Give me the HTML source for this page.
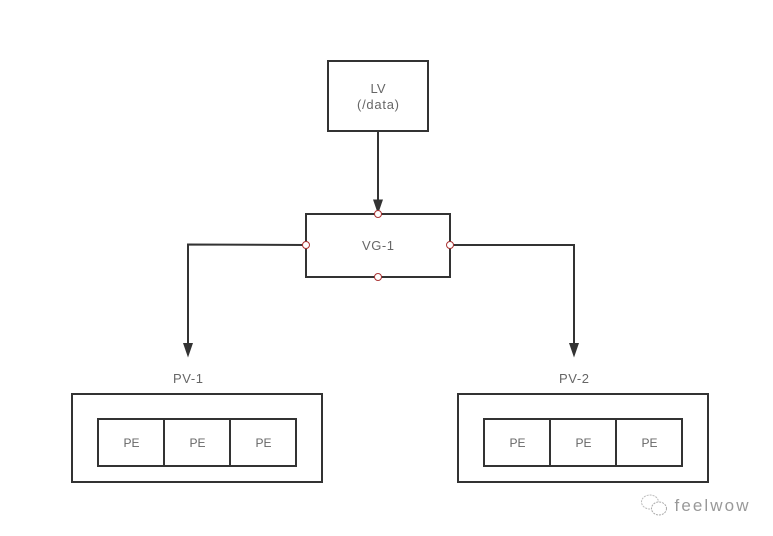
<!DOCTYPE html>
<html>
<head>
<meta charset="utf-8">
<style>
html,body{margin:0;padding:0;background:#fff;width:773px;height:536px;overflow:hidden}
svg{display:block}
text{font-family:"Liberation Sans",sans-serif;font-size:13px;fill:#666;text-anchor:middle}
text.p{font-size:12px}
.b{fill:#fff;stroke:#333;stroke-width:2}
.l{fill:none;stroke:#333;stroke-width:2}
.a{fill:#333;stroke:none}
.c{fill:#fff;stroke:#a33;stroke-width:1}
</style>
</head>
<body>
<svg width="773" height="536" viewBox="0 0 773 536" xmlns="http://www.w3.org/2000/svg">
<rect class="b" x="328" y="61" width="100" height="70"/>
<text x="378" y="93" textLength="15" lengthAdjust="spacing">LV</text>
<text x="378" y="109" textLength="42" lengthAdjust="spacing">(/data)</text>
<rect class="b" x="306" y="214" width="144" height="63"/>
<text x="378" y="250" textLength="32" lengthAdjust="spacing">VG-1</text>
<path class="l" d="M378 131V202"/>
<path class="a" d="M373 199.500H383L378 214Z"/>
<path class="l" d="M306 245L188 244.500V346"/>
<path class="a" d="M183 343H193L188 357.500Z"/>
<path class="l" d="M450 245H574V346"/>
<path class="a" d="M569 343H579L574 357.500Z"/>
<circle class="c" cx="378" cy="214" r="3.500"/>
<circle class="c" cx="378" cy="277" r="3.500"/>
<circle class="c" cx="306" cy="245" r="3.500"/>
<circle class="c" cx="450" cy="245" r="3.500"/>
<text x="188" y="383" textLength="30" lengthAdjust="spacing">PV-1</text>
<rect class="b" x="72" y="394" width="250" height="88"/>
<rect class="b" x="98" y="419" width="66" height="47"/>
<rect class="b" x="164" y="419" width="66" height="47"/>
<rect class="b" x="230" y="419" width="66" height="47"/>
<text class="p" x="131.500" y="447">PE</text>
<text class="p" x="197.500" y="447">PE</text>
<text class="p" x="263.500" y="447">PE</text>
<text x="574" y="383" textLength="30" lengthAdjust="spacing">PV-2</text>
<rect class="b" x="458" y="394" width="250" height="88"/>
<rect class="b" x="484" y="419" width="66" height="47"/>
<rect class="b" x="550" y="419" width="66" height="47"/>
<rect class="b" x="616" y="419" width="66" height="47"/>
<text class="p" x="517.500" y="447">PE</text>
<text class="p" x="583.500" y="447">PE</text>
<text class="p" x="649.500" y="447">PE</text>
<ellipse cx="650" cy="502" rx="8.500" ry="7" fill="#fff" stroke="#bbb" stroke-width="1" stroke-dasharray="2 1"/>
<ellipse cx="659" cy="508.500" rx="7.500" ry="6.500" fill="#fff" stroke="#aaa" stroke-width="1" stroke-dasharray="2 1"/>
<text x="711.500" y="511" textLength="74" lengthAdjust="spacing" style="font-size:17px;fill:#999">feelwow</text>
</svg>
</body>
</html>
